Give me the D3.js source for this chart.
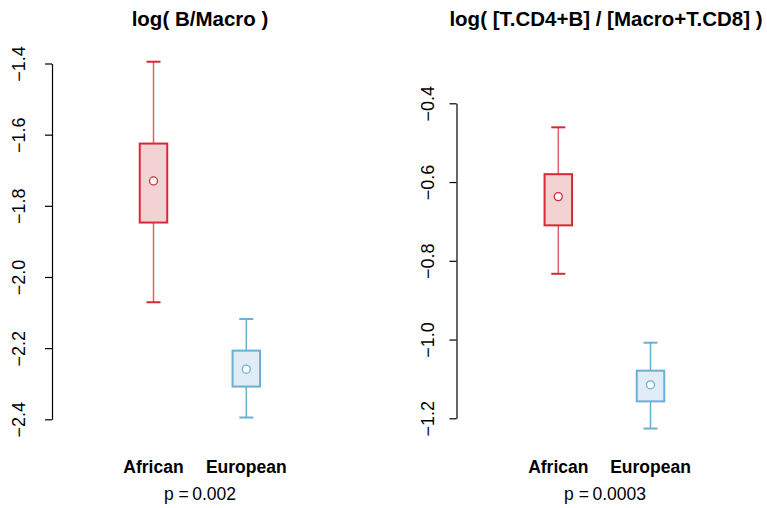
<!DOCTYPE html>
<html><head><meta charset="utf-8">
<script src="https://cdn.jsdelivr.net/npm/d3@7"></script>
<style>body{margin:0;background:#fff}svg{display:block}text{font-family:"Liberation Sans",Arial,sans-serif}</style>
</head><body>
<svg id="c" width="767" height="508"></svg>
<script>
const groups = ["African", "European"];
// [lower whisker, Q1, centre point, Q3, upper whisker]
const bMacroAfrican = [-2.071, -1.847, -1.730, -1.625, -1.395];
const bMacroEuropean = [-2.395, -2.308, -2.259, -2.207, -2.118];
const ratioAfrican = [-0.833, -0.710, -0.637, -0.580, -0.461];
const ratioEuropean = [-1.226, -1.157, -1.115, -1.079, -1.008];
const ticksLeft = [-1.4, -1.6, -1.8, -2.0, -2.2, -2.4];
const ticksRight = [-0.4, -0.6, -0.8, -1.0, -1.2];
const titles = ["log( B/Macro )", "log( [T.CD4+B] / [Macro+T.CD8] )"];
const pvals = ["0.002", "0.0003"];

const colors = {
  African: {stroke: "#d42a35", whisk: "#e0606a", fill: "#f4d2d3"},
  European: {stroke: "#6baed6", whisk: "#6baed6", fill: "#e1edf6"}
};

const svg = d3.select("#c");
const fmt = v => d3.format(".1f")(v).replace("-", "\u2212");

const panels = [
  {title: titles[0], data: [bMacroAfrican, bMacroEuropean], ticks: ticksLeft,
   yDom: [-2.4, -1.4], yRange: [419.3, 63.5], axisX: 52, xRange: [153.5, 246.3], titleX: 200, labelX: 24.5, p: pvals[0], pX: 200},
  {title: titles[1], data: [ratioAfrican, ratioEuropean], ticks: ticksRight,
   yDom: [-1.2, -0.4], yRange: [418.3, 103.3], axisX: 456.5, xRange: [558.3, 650.5], titleX: 606, labelX: 433.5, p: pvals[1], pX: 605}
];

panels.forEach(P => {
  const g = svg.append("g");
  const y = d3.scaleLinear().domain(P.yDom).range(P.yRange);
  const x = d3.scalePoint().domain(groups).range(P.xRange);

  g.append("text").attr("x", P.titleX).attr("y", 26).attr("text-anchor", "middle")
    .attr("font-weight", "bold").attr("font-size", 20.5).text(P.title);

  const ax = g.append("g").attr("transform", `translate(${P.axisX},0)`)
    .call(d3.axisLeft(y).tickValues(P.ticks).tickSize(7).tickSizeOuter(0).tickFormat(fmt));
  ax.select(".domain").attr("stroke", "#000").attr("stroke-width", 1.2);
  ax.selectAll(".tick line").attr("stroke", "#000").attr("stroke-width", 1.2);
  ax.selectAll(".tick text")
    .attr("x", null).attr("dy", null).attr("font-size", 18).attr("fill", "#000")
    .attr("text-anchor", "middle")
    .attr("transform", `translate(${P.labelX - P.axisX},0) rotate(-90)`);
  ax.attr("font-family", null).attr("font-size", null);

  groups.forEach((grp, i) => {
    const d = P.data[i];
    const c = colors[grp];
    const cx = x(grp);
    const bw = 27.5, cw = 14;
    const bg = g.append("g");
    bg.append("line").attr("x1", cx).attr("x2", cx).attr("y1", y(d[4])).attr("y2", y(d[3]))
      .attr("stroke", c.whisk).attr("stroke-width", 1.5);
    bg.append("line").attr("x1", cx).attr("x2", cx).attr("y1", y(d[1])).attr("y2", y(d[0]))
      .attr("stroke", c.whisk).attr("stroke-width", 1.5);
    bg.append("line").attr("x1", cx - cw / 2).attr("x2", cx + cw / 2).attr("y1", y(d[4])).attr("y2", y(d[4]))
      .attr("stroke", c.stroke).attr("stroke-width", 2);
    bg.append("line").attr("x1", cx - cw / 2).attr("x2", cx + cw / 2).attr("y1", y(d[0])).attr("y2", y(d[0]))
      .attr("stroke", c.stroke).attr("stroke-width", 2);
    bg.append("rect").attr("x", cx - bw / 2).attr("width", bw)
      .attr("y", y(d[3])).attr("height", y(d[1]) - y(d[3]))
      .attr("fill", c.fill).attr("stroke", c.stroke).attr("stroke-width", 2);
    bg.append("circle").attr("cx", cx).attr("cy", y(d[2])).attr("r", 4)
      .attr("fill", "#fff").attr("stroke", c.stroke).attr("stroke-width", 1.3);

    g.append("text").attr("x", cx).attr("y", 472.5).attr("text-anchor", "middle")
      .attr("font-weight", "bold").attr("font-size", 17.5).text(grp);
  });

  const pt = g.append("text").attr("x", P.pX).attr("y", 500).attr("text-anchor", "middle")
    .attr("font-size", 17.5).attr("xml:space", "preserve");
  pt.text("p =\u20090." + P.p.slice(2));
});
</script>
</body></html>
